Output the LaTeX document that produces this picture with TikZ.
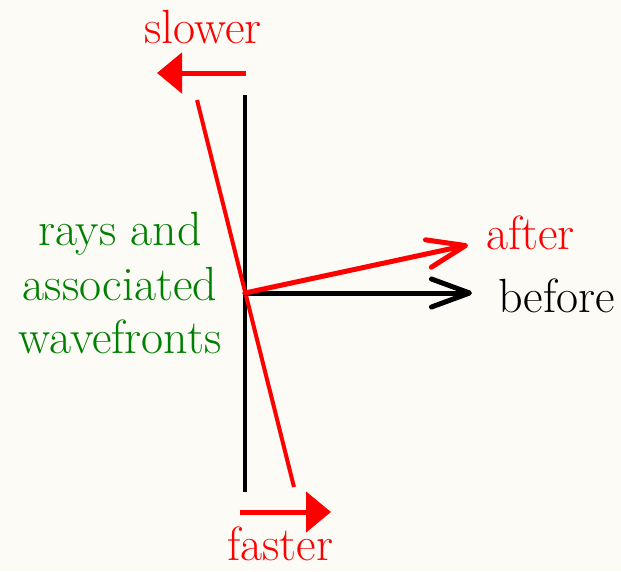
\documentclass[tikz,border=0pt]{standalone}
\usetikzlibrary{arrows.meta}
\definecolor{bg}{HTML}{FCFBF6}
\definecolor{dgreen}{HTML}{008000}
\begin{document}
\begin{tikzpicture}[x=1pt,y=-1pt,
  lbl/.style={inner sep=0pt,anchor=base,font=\rmfamily\fontsize{48}{54}\selectfont},
  ray/.style={line width=5pt,line cap=round,line join=round,-{Straight Barb[length=38pt,width=28pt,line width=5pt,round]}},
  fillarrow/.style={red,line width=5pt,-{Triangle[length=25pt,width=40pt]}}]
\fill[bg] (0,0) rectangle (621,571);
\useasboundingbox (0,0) rectangle (621,571);
% coordinates
\coordinate (vtop) at (245,95);
\coordinate (vbot) at (245,492);
\coordinate (rtop) at (197,100);
\coordinate (rbot) at (294,487);
\coordinate (o) at (245,293);
\coordinate (bef) at (472,293);
\coordinate (aft) at (468,245);
\coordinate (sA) at (246,73);
\coordinate (sB) at (157,73);
\coordinate (fA) at (240,512);
\coordinate (fB) at (331,512);
% lines
\draw[line width=4pt] (vtop) -- (vbot);
\draw[red,line width=4pt] (rtop) -- (rbot);
\draw[ray,black] (o) -- (bef);
\draw[ray,red] (o) -- (aft);
\draw[fillarrow] (sA) -- (sB);
\draw[fillarrow] (fA) -- (fB);
% labels
\node[lbl,red] (slower) at (203,43) {slower};
\node[lbl,red] (faster) at (280,560) {faster};
\node[lbl,red,anchor=base west] (after) at (486,249) {after};
\node[lbl,black,anchor=base west] (before) at (498,312) {before};
\node[lbl,dgreen] (l1) at (120,245) {rays and};
\node[lbl,dgreen] (l2) at (120,300) {associated};
\node[lbl,dgreen] (l3) at (120,353) {wavefronts};
\end{tikzpicture}
\end{document}
